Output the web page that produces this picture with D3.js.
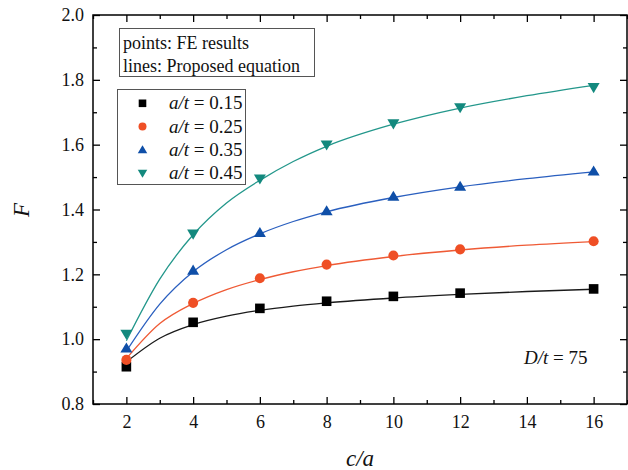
<!DOCTYPE html>
<html>
<head>
<meta charset="utf-8">
<script src="https://cdn.jsdelivr.net/npm/d3@7/dist/d3.min.js"></script>
<style>
  html, body { margin: 0; padding: 0; background: #ffffff; }
</style>
</head>
<body>
<svg id="chart" width="628" height="470"></svg>
<script>
// c/a values at which the FE models were run
const caPoints = [2, 4, 6, 8, 10, 12, 16];
// FE results for each crack depth ratio a/t
const fe015 = [0.915, 1.052, 1.095, 1.117, 1.132, 1.142, 1.155];
const fe025 = [0.936, 1.112, 1.188, 1.230, 1.258, 1.277, 1.302];
const fe035 = [0.972, 1.212, 1.328, 1.395, 1.440, 1.471, 1.518];
const fe045 = [1.016, 1.325, 1.495, 1.600, 1.665, 1.715, 1.777];

// proposed-equation curves, sampled along c/a
const caCurve = [2, 3, 4, 5, 6, 7, 8, 10, 12, 14, 16];
const eq015 = [0.930, 1.003, 1.045, 1.071, 1.089, 1.102, 1.112, 1.127, 1.138, 1.147, 1.154];
const eq025 = [0.940, 1.048, 1.110, 1.153, 1.184, 1.208, 1.227, 1.255, 1.275, 1.290, 1.301];
const eq035 = [0.963, 1.108, 1.208, 1.276, 1.325, 1.363, 1.393, 1.437, 1.470, 1.495, 1.516];
const eq045 = [0.995, 1.185, 1.322, 1.420, 1.490, 1.548, 1.595, 1.663, 1.713, 1.751, 1.783];

const seriesLabels = ["0.15", "0.25", "0.35", "0.45"];
const seriesColors = ["#000000", "#ef4f25", "#0f4fa8", "#13897e"];
const lineColors   = ["#1a1a1a", "#ef5a35", "#2a5fbf", "#23978b"];
const seriesShapes = ["square", "circle", "triangleUp", "triangleDown"];

const xMajor = [2, 4, 6, 8, 10, 12, 14, 16];
const xMinor = [1, 3, 5, 7, 9, 11, 13, 15, 17];
const yMajor = [0.8, 1.0, 1.2, 1.4, 1.6, 1.8, 2.0];
const yMinor = [0.9, 1.1, 1.3, 1.5, 1.7, 1.9];

const feSets = [fe015, fe025, fe035, fe045];
const eqSets = [eq015, eq025, eq035, eq045];

const SERIF = "'Liberation Serif', Tinos, 'Times New Roman', serif";
const svg = d3.select("#chart");
const L = 93, R = 627, T = 15, B = 404;

const x = d3.scaleLinear().domain([1, 17]).range([L, R]);
const y = d3.scaleLinear().domain([0.8, 2.0]).range([B, T]);

function markerPath(shape, s) {
  // s: half-size of the marker
  const p = d3.path();
  if (shape === "square") {
    p.rect(-s, -s, 2 * s, 2 * s);
  } else if (shape === "circle") {
    p.arc(0, 0, s * 1.05, 0, 2 * Math.PI);
  } else if (shape === "triangleUp") {
    const h = s * 2.1;
    p.moveTo(0, -h * 0.58); p.lineTo(s * 1.25, h * 0.42); p.lineTo(-s * 1.25, h * 0.42); p.closePath();
  } else {
    const h = s * 2.1;
    p.moveTo(0, h * 0.58); p.lineTo(s * 1.25, -h * 0.42); p.lineTo(-s * 1.25, -h * 0.42); p.closePath();
  }
  return p.toString();
}

// axes: ticks drawn inward on all four sides
const fontTick = 18;
function styleAxis(g) {
  g.attr("font-family", SERIF);
  g.select(".domain").remove();
  g.selectAll(".tick line").attr("stroke", "#000").attr("stroke-width", 1.3);
  g.selectAll(".tick text").attr("font-family", SERIF)
    .attr("font-size", fontTick).attr("fill", "#111");
}

svg.append("g").attr("transform", `translate(0,${B})`)
  .call(d3.axisBottom(x).tickValues(xMajor).tickSize(-7).tickPadding(11).tickFormat(d3.format("d")))
  .call(styleAxis);
svg.append("g").attr("transform", `translate(0,${B})`)
  .call(d3.axisBottom(x).tickValues(xMinor).tickSize(-4).tickFormat(""))
  .call(styleAxis);
svg.append("g").attr("transform", `translate(0,${T})`)
  .call(d3.axisTop(x).tickValues(xMajor).tickSize(-7).tickFormat(""))
  .call(styleAxis);
svg.append("g").attr("transform", `translate(0,${T})`)
  .call(d3.axisTop(x).tickValues(xMinor).tickSize(-4).tickFormat(""))
  .call(styleAxis);

svg.append("g").attr("transform", `translate(${L},0)`)
  .call(d3.axisLeft(y).tickValues(yMajor).tickSize(-7).tickPadding(9).tickFormat(d3.format(".1f")))
  .call(styleAxis);
svg.append("g").attr("transform", `translate(${L},0)`)
  .call(d3.axisLeft(y).tickValues(yMinor).tickSize(-4).tickFormat(""))
  .call(styleAxis);
svg.append("g").attr("transform", `translate(${R},0)`)
  .call(d3.axisRight(y).tickValues(yMajor).tickSize(-7).tickFormat(""))
  .call(styleAxis);
svg.append("g").attr("transform", `translate(${R},0)`)
  .call(d3.axisRight(y).tickValues(yMinor).tickSize(-4).tickFormat(""))
  .call(styleAxis);

// plot frame
svg.append("rect").attr("x", L).attr("y", T).attr("width", R - L).attr("height", B - T)
  .attr("fill", "none").attr("stroke", "#000").attr("stroke-width", 1.5);

// axis titles
svg.append("text").attr("x", (L + R) / 2).attr("y", 466).attr("text-anchor", "middle")
  .attr("font-family", SERIF).attr("font-size", 23).attr("font-style", "italic")
  .attr("fill", "#111").text("c/a");
svg.append("text").attr("transform", "translate(29,210) rotate(-90)").attr("text-anchor", "middle")
  .attr("font-family", SERIF).attr("font-size", 23).attr("font-style", "italic")
  .attr("fill", "#111").text("F");

// curves of the proposed equation
const line = d3.line().x((d, i) => x(caCurve[i])).y(d => y(d)).curve(d3.curveMonotoneX);
eqSets.forEach((vals, k) => {
  svg.append("path").attr("d", line(vals)).attr("fill", "none")
    .attr("stroke", lineColors[k]).attr("stroke-width", 1.3);
});

// FE result markers
feSets.forEach((vals, k) => {
  svg.append("g").selectAll("path").data(vals).join("path")
    .attr("transform", (d, i) => `translate(${x(caPoints[i])},${y(d)})`)
    .attr("d", markerPath(seriesShapes[k], 4.8))
    .attr("fill", seriesColors[k]);
});

// annotation box: points / lines
const note = svg.append("g").attr("font-family", SERIF);
note.append("rect").attr("x", 119.5).attr("y", 28.5).attr("width", 195).attr("height", 48)
  .attr("fill", "#fff").attr("stroke", "#555").attr("stroke-width", 1);
note.append("text").attr("x", 123).attr("y", 48.5).attr("font-family", SERIF)
  .attr("font-size", 18).attr("fill", "#111").text("points: FE results");
note.append("text").attr("x", 123).attr("y", 72).attr("font-family", SERIF)
  .attr("font-size", 18).attr("fill", "#111").text("lines: Proposed equation");

// legend
const leg = svg.append("g").attr("font-family", SERIF);
leg.append("rect").attr("x", 117.5).attr("y", 89.5).attr("width", 128).attr("height", 95)
  .attr("fill", "#fff").attr("stroke", "#555").attr("stroke-width", 1);
seriesLabels.forEach((lab, k) => {
  const cy = 103.3 + k * 23.3;
  leg.append("path").attr("transform", `translate(142.5,${cy})`)
    .attr("d", markerPath(seriesShapes[k], 3.8)).attr("fill", seriesColors[k]);
  const t = leg.append("text").attr("x", 169).attr("y", cy + 6).attr("font-family", SERIF)
    .attr("font-size", 19).attr("fill", "#111");
  t.append("tspan").attr("font-style", "italic").text("a/t");
  t.append("tspan").text(" = " + lab);
});

// geometry annotation
const ann = svg.append("text").attr("x", 524).attr("y", 364).attr("font-family", SERIF)
  .attr("font-size", 19).attr("fill", "#111");
ann.append("tspan").attr("font-style", "italic").text("D/t");
ann.append("tspan").text(" = 75");
</script>
</body>
</html>
